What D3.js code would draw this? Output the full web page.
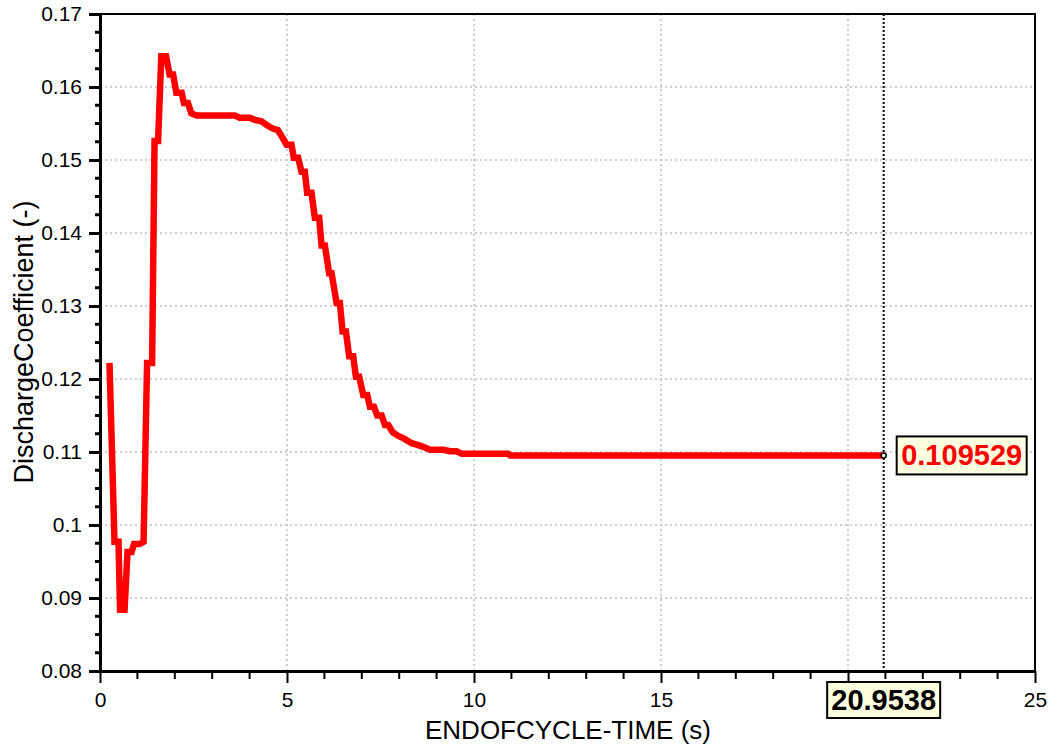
<!DOCTYPE html>
<html>
<head>
<meta charset="utf-8">
<script src="https://cdn.jsdelivr.net/npm/d3@7"></script>
<style>
	body { margin: 0; background: #fff; }
	text { font-family: Arial, "Liberation Sans", sans-serif; }
</style>
</head>
<body>
<div id="chart"></div>
<script>

// values
const timeValues = [0.254, 0.388, 0.495, 0.536, 0.656, 0.736, 0.844, 0.911, 1.058, 1.165,
	1.259, 1.393, 1.459, 1.553, 1.639, 1.767, 1.861, 1.955, 2.041, 2.183,
	2.244, 2.351, 2.442, 2.584, 3.602, 3.736, 4.004, 4.138, 4.317, 4.486,
	4.620, 4.754, 4.853, 4.987, 5.120, 5.182, 5.297, 5.388, 5.477, 5.538,
	5.656, 5.744, 5.860, 5.924, 6.012, 6.127, 6.192, 6.326, 6.414, 6.486,
	6.575, 6.663, 6.770, 6.842, 6.931, 7.038, 7.145, 7.217, 7.325, 7.413,
	7.531, 7.619, 7.708, 7.825, 7.975, 8.109, 8.334, 8.468, 8.645, 8.824,
	9.180, 9.360, 9.539, 9.673, 9.895, 10.91, 10.97, 20.9538];

const coefValues = [0.1222, 0.0977, 0.0977, 0.0884, 0.0884, 0.0963, 0.0963, 0.0974, 0.0974, 0.0977,
	0.1222, 0.1222, 0.1526, 0.1526, 0.1642, 0.1642, 0.1617, 0.1617, 0.1592, 0.1592,
	0.1578, 0.1578, 0.1564, 0.1561, 0.1561, 0.1558, 0.1558, 0.1555, 0.1553, 0.1547,
	0.1543, 0.1541, 0.1533, 0.1521, 0.1521, 0.1503, 0.1503, 0.1484, 0.1484, 0.1455,
	0.1455, 0.1421, 0.1421, 0.1383, 0.1383, 0.1345, 0.1345, 0.1304, 0.1304, 0.1265,
	0.1265, 0.1231, 0.1231, 0.1203, 0.1203, 0.1178, 0.1178, 0.1162, 0.1162, 0.1150,
	0.1150, 0.1137, 0.1137, 0.1127, 0.1122, 0.1119, 0.1112, 0.1110, 0.1107, 0.1103,
	0.1103, 0.1101, 0.1101, 0.10975, 0.10975, 0.10975, 0.109529, 0.109529];

const xTicks = [0, 5, 10, 15, 20, 25];
const xTickLabels = ["0", "5", "10", "15", "", "25"];
const yTicks = [0.08, 0.09, 0.1, 0.11, 0.12, 0.13, 0.14, 0.15, 0.16, 0.17];
const yTickLabels = ["0.08", "0.09", "0.1", "0.11", "0.12", "0.13", "0.14", "0.15", "0.16", "0.17"];

const cursorTime = 20.9538;
const cursorValue = 0.109529;

let width = 1049;
let height = 749;
let margin = {top: 14, right: 14, bottom: 78, left: 100};

let svg = d3.select('#chart').append('svg')
.attr('width', width)
.attr('height', height);

let x = d3.scaleLinear()
.domain([0, 25])
.range([margin.left, width - margin.right]);

let y = d3.scaleLinear()
.domain([0.08, 0.17])
.range([height - margin.bottom, margin.top]);

let grid = svg.append('g');
let axes = svg.append('g');
let plot = svg.append('g');
let cursor = svg.append('g');

// grid
grid.selectAll('.hgrid')
.data(yTicks.slice(1, -1))
.enter()
.append('line')
.attr('x1', x(0))
.attr('x2', x(25))
.attr('y1', d => y(d))
.attr('y2', d => y(d))
.style('stroke', '#bdbdbd')
.style('stroke-width', 1.5)
.style('stroke-dasharray', '2,3');

grid.selectAll('.vgrid')
.data(xTicks.slice(1, -1))
.enter()
.append('line')
.attr('x1', d => x(d))
.attr('x2', d => x(d))
.attr('y1', y(0.08))
.attr('y2', y(0.17))
.style('stroke', '#bdbdbd')
.style('stroke-width', 1.5)
.style('stroke-dasharray', '2,3');

// frame (top and right)
axes.append('path')
.attr('d', `M${x(0)},${y(0.17)}H${x(25)}V${y(0.08)}`)
.attr('fill', 'none')
.style('stroke', '#000')
.style('stroke-width', 2);

// bottom axis
let xAxis = d3.axisBottom(x)
.tickValues(xTicks)
.tickFormat((d, i) => xTickLabels[i])
.tickSizeInner(12)
.tickSizeOuter(0)
.tickPadding(9);

let gx = axes.append('g')
.attr('transform', `translate(0,${y(0.08)})`)
.call(xAxis);

gx.selectAll('.tick line').style('stroke-width', 2);
gx.selectAll('.tick text').style('font-size', '21px').style('fill', '#000');
gx.select('.domain').style('stroke-width', 3);

axes.append('g')
.selectAll('line')
.data(d3.range(0, 26).filter(d => d % 5 !== 0))
.enter()
.append('line')
.attr('x1', d => x(d))
.attr('x2', d => x(d))
.attr('y1', y(0.08))
.attr('y2', y(0.08) + 8)
.style('stroke', '#000')
.style('stroke-width', 2);

// left axis
let yAxis = d3.axisLeft(y)
.tickValues(yTicks)
.tickFormat((d, i) => yTickLabels[i])
.tickSizeInner(11)
.tickSizeOuter(0)
.tickPadding(7);

let gy = axes.append('g')
.attr('transform', `translate(${x(0)},0)`)
.call(yAxis);

gy.selectAll('.tick line').style('stroke-width', 3);
gy.selectAll('.tick text').style('font-size', '21px').style('fill', '#000');
gy.select('.domain').style('stroke-width', 3);

axes.append('g')
.selectAll('line')
.data(d3.range(0, 37).filter(d => d % 4 !== 0).map(d => 0.08 + d * 0.0025))
.enter()
.append('line')
.attr('x1', x(0) - 5)
.attr('x2', x(0))
.attr('y1', d => y(d))
.attr('y2', d => y(d))
.style('stroke', '#000')
.style('stroke-width', 3);

// axis titles
svg.append('text')
.attr('x', 568)
.attr('y', 739)
.attr('text-anchor', 'middle')
.style('font-size', '26px')
.text('ENDOFCYCLE-TIME (s)');

svg.append('text')
.attr('transform', 'translate(33,342) rotate(-90)')
.attr('text-anchor', 'middle')
.style('font-size', '27px')
.text('DischargeCoefficient (-)');

// data line
let line = d3.line()
.x((d, i) => x(timeValues[i]))
.y(d => y(d));

plot.append('path')
.datum(coefValues)
.attr('d', line)
.attr('fill', 'none')
.style('stroke', '#ff0000')
.style('stroke-width', 6.5)
.style('stroke-linejoin', 'miter');

// cursor
cursor.append('line')
.attr('x1', x(cursorTime))
.attr('x2', x(cursorTime))
.attr('y1', y(0.17))
.attr('y2', y(0.08))
.style('stroke', '#000')
.style('stroke-width', 2)
.style('stroke-dasharray', '2,2');

cursor.append('circle')
.attr('cx', x(cursorTime))
.attr('cy', y(cursorValue))
.attr('r', 2.5)
.attr('fill', '#fff')
.style('stroke', '#000')
.style('stroke-width', 1.5);

const labelBox = (cx, cy, w, h, txt, color) => {
	let g = cursor.append('g');
	g.append('rect')
	.attr('x', cx - w / 2)
	.attr('y', cy - h / 2)
	.attr('width', w)
	.attr('height', h)
	.attr('fill', '#ffffe0')
	.style('stroke', '#000')
	.style('stroke-width', 2);
	g.append('text')
	.attr('x', cx)
	.attr('y', cy + 10)
	.attr('text-anchor', 'middle')
	.style('font-size', '29px')
	.style('font-weight', 'bold')
	.style('fill', color)
	.text(txt);
}

labelBox(x(cursorTime), 700, 113, 36, cursorTime.toString(), '#000');
labelBox(x(cursorTime) + 78, y(cursorValue), 130, 38, cursorValue.toString(), '#ff0000');

</script>
</body>
</html>
